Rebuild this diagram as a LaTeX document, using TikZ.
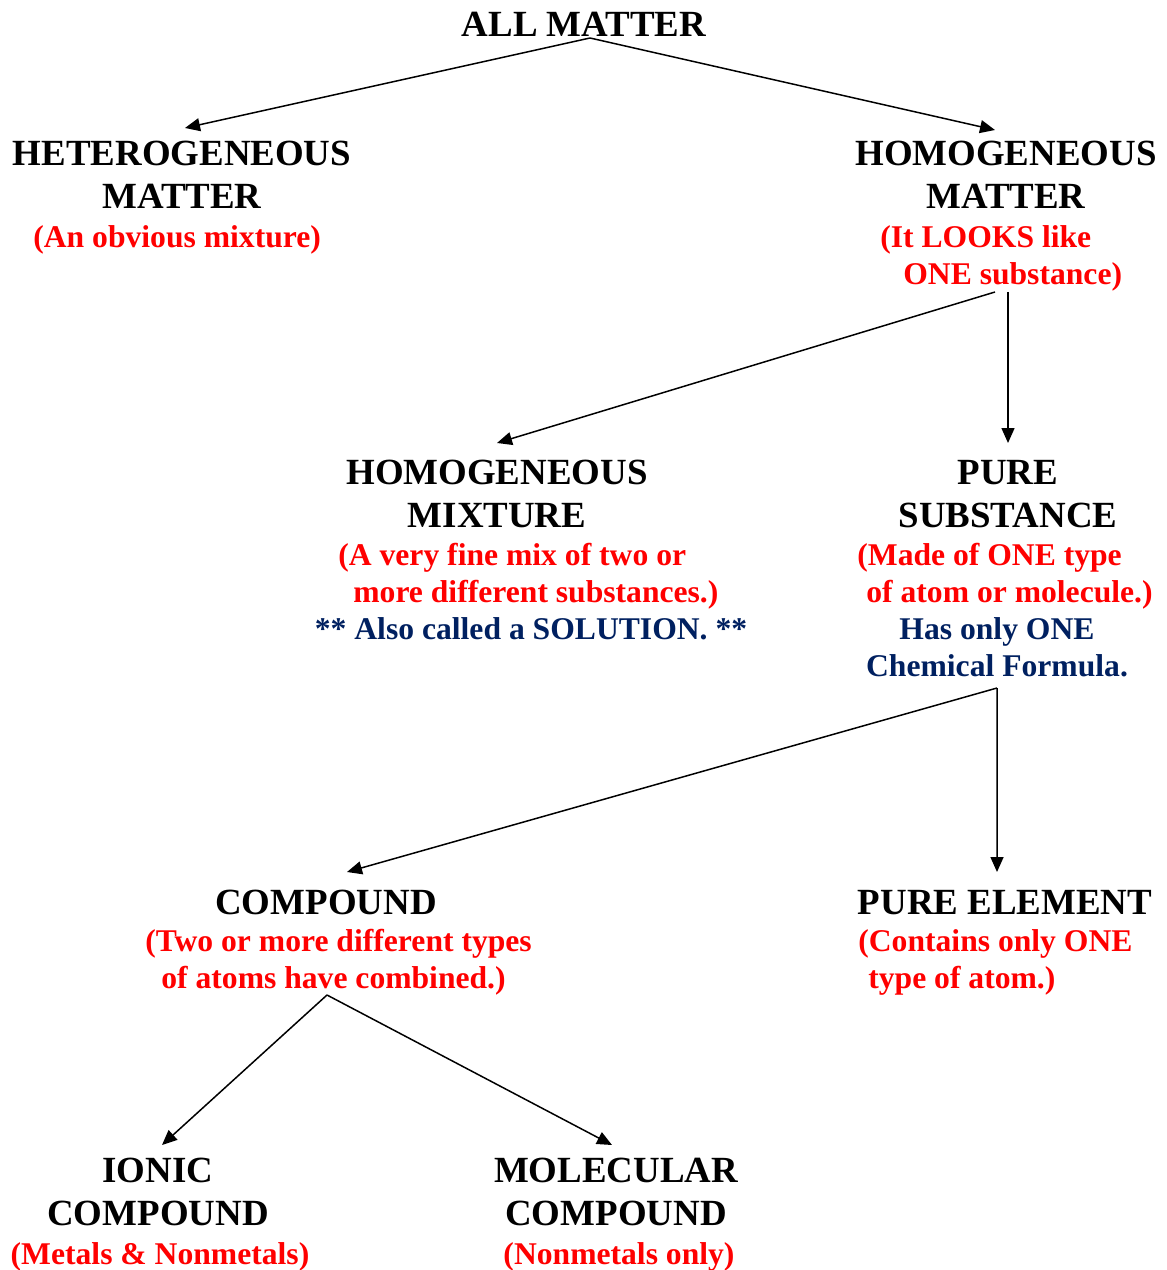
\documentclass[tikz,border=0pt]{standalone}
\usepackage{fontspec}
\setmainfont{Liberation Serif}
\usepackage{tikz}
\usetikzlibrary{arrows.meta}
\definecolor{matred}{RGB}{255,0,0}
\definecolor{matnavy}{RGB}{0,32,96}

\begin{document}
\begin{tikzpicture}[x=0.02cm,y=-0.02cm,
    title/.style={font=\bfseries\fontsize{21}{24.5}\selectfont,align=center,inner sep=0,anchor=north},
    note/.style={text=matred,font=\bfseries\fontsize{18}{21}\selectfont,align=left,inner sep=0,anchor=north west},
    cnote/.style={note,align=center,anchor=north},
    info/.style={text=matnavy,font=\bfseries\fontsize{18}{21}\selectfont,align=center,inner sep=0,anchor=north},
    arr/.style={-{Triangle[length=0.3cm,width=0.26cm]},line width=0.85pt}]
  \useasboundingbox (0,0) rectangle (1166,1270);
  \node[title] (all) at (584,12) {ALL MATTER};
  \node[title] (het) at (182,141) {HETEROGENEOUS\\MATTER};
  \node[note] (hetnote) at (33,225) {(An obvious mixture)};
  \node[title] (hom) at (1006,141) {HOMOGENEOUS\\MATTER};
  \node[note] (homnote) at (880,225) {(It LOOKS like\\\hspace*{0.46cm}ONE substance)};
  \node[title] (mix) at (497,460) {HOMOGENEOUS\\MIXTURE};
  \node[note] (mixnote) at (338,543) {(A very fine mix of two or\\\hspace*{0.3cm}more different substances.)};
  \node[info] (mixinfo) at (531,617) {** Also called a SOLUTION. **};
  \node[title] (pure) at (1008,460) {PURE\\SUBSTANCE};
  \node[note] (purenote) at (857,543) {(Made of ONE type\\\hspace*{0.18cm}of atom or molecule.)};
  \node[info] (pureinfo) at (997,617) {Has only ONE\\Chemical Formula.};
  \node[title] (cmp) at (326,890) {COMPOUND};
  \node[note] (cmpnote) at (145,929) {(Two or more different types\\\hspace*{0.32cm}of atoms have combined.)};
  \node[title] (elem) at (1005,890) {PURE ELEMENT};
  \node[note] (elemnote) at (858,929) {(Contains only ONE\\\hspace*{0.2cm}type of atom.)};
  \node[title] (ionic) at (158,1158) {IONIC\\COMPOUND};
  \node[cnote] (ionicnote) at (160,1242) {(Metals \& Nonmetals)};
  \node[title] (mol) at (616,1158) {MOLECULAR\\COMPOUND};
  \node[cnote] (molnote) at (619,1242) {(Nonmetals only)};
  \coordinate (allfork) at (590,38);
  \coordinate (homfork) at (995,292);
  \coordinate (homdown) at (1008,292);
  \coordinate (purefork) at (997,688);
  \coordinate (cmpfork) at (327,995);
  \draw[arr] (allfork) -- ([xshift=0.06cm,yshift=0.26cm]het.north);
  \draw[arr] (allfork) -- ([xshift=-0.22cm,yshift=0.22cm]hom.north);
  \draw[arr] (homfork) -- ([yshift=0.34cm]mix.north);
  \draw[arr] (homdown) -- ([yshift=0.34cm]pure.north);
  \draw[arr] (purefork) -- ([xshift=0.42cm,yshift=0.36cm]cmp.north);
  \draw[arr] (purefork) -- ([xshift=-0.16cm,yshift=0.36cm]elem.north);
  \draw[arr] (cmpfork) -- ([xshift=0.08cm,yshift=0.26cm]ionic.north);
  \draw[arr] (cmpfork) -- ([xshift=-0.08cm,yshift=0.26cm]mol.north);
\end{tikzpicture}
\end{document}
